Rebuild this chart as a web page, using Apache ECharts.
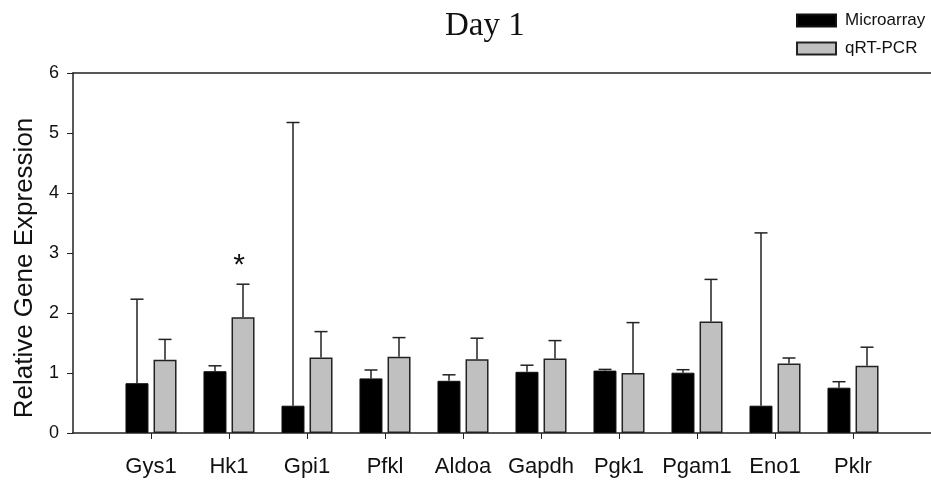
<!DOCTYPE html>
<html>
<head>
<meta charset="utf-8">
<script src="https://cdn.jsdelivr.net/npm/echarts@6/dist/echarts.min.js"></script>
<style>
  html, body { margin: 0; padding: 0; background: #fff; }
  #chart { width: 931px; height: 483px; }
</style>
</head>
<body>
<div id="chart"></div>
<script>
const genes = ['Gys1', 'Hk1', 'Gpi1', 'Pfkl', 'Aldoa', 'Gapdh', 'Pgk1', 'Pgam1', 'Eno1', 'Pklr'];
const microarray = [0.83, 1.03, 0.455, 0.91, 0.87, 1.02, 1.04, 1.005, 0.455, 0.755];
const microarrayErr = [1.40, 0.09, 4.72, 0.14, 0.10, 0.11, 0.02, 0.05, 2.88, 0.10];
const qrtpcr = [1.22, 1.93, 1.26, 1.27, 1.23, 1.24, 1.00, 1.86, 1.16, 1.12];
const qrtpcrErr = [0.34, 0.55, 0.43, 0.32, 0.35, 0.30, 0.84, 0.70, 0.09, 0.31];
const significant = [{ gene: 'Hk1', y: 2.78 }];

const font = "'Liberation Sans', Arial, sans-serif";
const ink = '#222';
// empty slots at both ends leave the gap before the first gene and after the last one
const slots = [''].concat(genes, ['']);

function errorBar(offset) {
  return function (params, api) {
    const idx = api.value(0);
    const base = api.coord([idx, api.value(1)]);
    const top = api.coord([idx, api.value(1) + api.value(2)]);
    const cx = base[0] + offset;
    const style = { stroke: ink, lineWidth: 1.5 };
    return {
      type: 'group',
      children: [
        { type: 'line', shape: { x1: cx, y1: base[1], x2: cx, y2: top[1] }, style: style },
        { type: 'line', shape: { x1: cx - 6.5, y1: top[1], x2: cx + 6.5, y2: top[1] }, style: style },
      ],
    };
  };
}

const chart = echarts.init(document.getElementById('chart'));
chart.setOption({
  animation: false,
  title: {
    text: 'Day 1',
    left: 440,
    top: 5,
    textStyle: { fontFamily: "'Liberation Serif', 'Times New Roman', serif", fontSize: 33, fontWeight: 'normal', color: '#111' },
  },
  legend: {
    data: ['Microarray', 'qRT-PCR'],
    orient: 'vertical',
    left: 796,
    top: 12,
    padding: 0,
    itemWidth: 39,
    itemHeight: 12,
    itemGap: 11,
    icon: 'rect',
    textStyle: { fontFamily: font, fontSize: 17, color: '#111', padding: [0, 0, 0, 4] },
  },
  grid: { left: 73, right: 0, top: 73, bottom: 50, outerBoundsMode: 'none' },
  xAxis: [
    {
      type: 'category',
      data: slots,
      boundaryGap: false,
      axisLine: { lineStyle: { color: ink, width: 1.5 } },
      axisTick: { length: 6, interval: (i) => i > 0 && i < slots.length - 1, lineStyle: { color: ink } },
      axisLabel: { fontFamily: font, fontSize: 22, color: '#111', margin: 23, interval: 0 },
    },
    {
      type: 'category',
      data: slots,
      position: 'top',
      boundaryGap: false,
      axisLine: { lineStyle: { color: ink, width: 1.5 } },
      axisTick: { show: false },
      axisLabel: { show: false },
    },
  ],
  yAxis: {
    type: 'value',
    min: 0,
    max: 6,
    interval: 1,
    name: 'Relative Gene Expression',
    nameLocation: 'middle',
    nameRotate: 90,
    nameGap: 35,
    nameMoveOverlap: false,
    nameTextStyle: { fontFamily: font, fontSize: 26, color: '#111', padding: [0, 30, 0, 0] },
    axisLine: { show: true, lineStyle: { color: ink, width: 1.5 } },
    axisTick: { show: true, length: 6, lineStyle: { color: ink } },
    axisLabel: { fontFamily: font, fontSize: 18, color: '#111', margin: 14 },
    splitLine: { show: false },
  },
  series: [
    {
      name: 'Microarray',
      type: 'bar',
      barWidth: 23,
      barGap: '22%',
      data: genes.map((g, i) => [g, microarray[i]]),
      itemStyle: { color: '#000', borderColor: '#111', borderWidth: 1 },
    },
    {
      name: 'qRT-PCR',
      type: 'bar',
      barWidth: 23,
      data: genes.map((g, i) => [g, qrtpcr[i]]),
      itemStyle: { color: '#c0c0c0', borderColor: ink, borderWidth: 1.5 },
      markPoint: {
        symbol: 'circle',
        symbolSize: 0,
        data: significant.map((s) => ({ coord: [s.gene, s.y] })),
        label: { show: true, formatter: '*', fontFamily: font, fontSize: 30, color: '#111', offset: [-4, 0] },
      },
    },
    {
      type: 'custom',
      renderItem: errorBar(-14),
      encode: { x: 0, y: 1 },
      data: genes.map((g, i) => [g, microarray[i], microarrayErr[i]]),
      z: 1,
    },
    {
      type: 'custom',
      renderItem: errorBar(14),
      encode: { x: 0, y: 1 },
      data: genes.map((g, i) => [g, qrtpcr[i], qrtpcrErr[i]]),
      z: 1,
    },
  ],
});
</script>
</body>
</html>
